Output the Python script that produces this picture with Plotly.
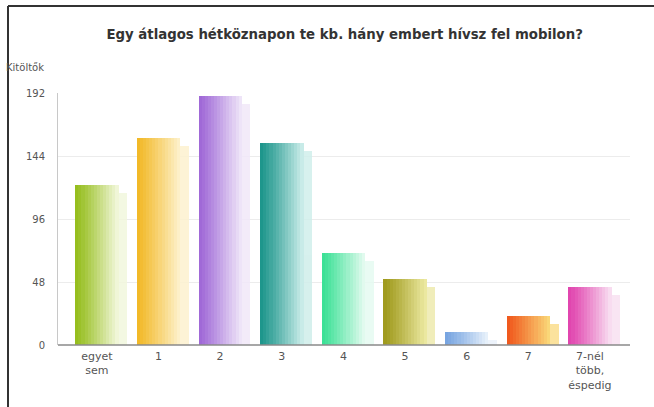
import plotly.graph_objects as go

categories = ["egyet<br>sem", "1", "2", "3", "4", "5", "6", "7", "7-nél<br>több,<br>éspedig"]
values = [122, 158, 190, 154, 70, 50, 10, 22, 44]
y_ticks = [0, 48, 96, 144, 192]
title_text = "Egy átlagos hétköznapon te kb. hány embert hívsz fel mobilon?"
y_label = "Kitöltők"

left_colors = [(150, 190, 30), (242, 185, 40), (160, 105, 215), (30, 150, 140),
               (60, 225, 150), (160, 155, 30), (120, 165, 225), (240, 90, 30), (225, 70, 175)]
right_colors = [(240, 246, 215), (253, 240, 200), (238, 228, 248), (200, 235, 232),
                (225, 250, 238), (235, 232, 160), (230, 240, 250), (250, 215, 120), (248, 220, 240)]

def mix(a, b, t):
    return "rgb(%d,%d,%d)" % tuple(round(a[k] + (b[k] - a[k]) * t) for k in range(3))

fig = go.Figure()
x_idx = list(range(len(categories)))
bar_w = 0.70

# soft shadow behind each bar
shadow_vals = [max(v - 6, 0) for v in values]
fig.add_trace(go.Bar(x=x_idx, y=shadow_vals, width=bar_w, offset=-bar_w / 2 + 0.14,
                     marker=dict(color=[mix(r, (255, 255, 255), 0.15) for r in right_colors],
                                 line=dict(width=0)),
                     opacity=0.85, hoverinfo="skip", showlegend=False))

N = 14
sw = bar_w / N
for i in range(N):
    t = (i / (N - 1)) ** 1.1
    fig.add_trace(go.Bar(x=x_idx, y=values, width=sw * 1.08, offset=-bar_w / 2 + i * sw,
                         marker=dict(color=[mix(l, r, t) for l, r in zip(left_colors, right_colors)],
                                     line=dict(width=0)),
                         hoverinfo="skip", showlegend=False))

fig.update_layout(
    width=654, height=407,
    margin=dict(l=58, r=24, t=93, b=62),
    paper_bgcolor="white", plot_bgcolor="white",
    barmode="overlay", bargap=0,
    font=dict(family="DejaVu Sans", color="#555555"),
    title=dict(text="<b>" + title_text + "</b>", x=0.527, xanchor="center",
               y=1 - 34 / 407, yanchor="middle", yref="container",
               font=dict(size=13.3, color="#333333", family="DejaVu Sans")),
    xaxis=dict(range=[-0.63, 8.65], tickmode="array", tickvals=x_idx, ticktext=categories,
               showgrid=False, zeroline=False, showline=False, ticks="",
               ticklabelstandoff=3,
               tickfont=dict(size=11, color="#555555"), fixedrange=True, automargin=False),
    yaxis=dict(range=[0, 192], tickmode="array", tickvals=y_ticks,
               ticktext=[str(v) for v in y_ticks],
               showgrid=True, gridcolor="#ececec", gridwidth=1,
               zeroline=False, showline=True, linecolor="#c8c8c8", linewidth=1,
               ticks="", ticklabelstandoff=10,
               tickfont=dict(size=10, color="#555555"), fixedrange=True, automargin=False),
    annotations=[dict(text=y_label, xref="paper", yref="paper", x=-0.095, y=1 + 25 / 252,
                      xanchor="left", yanchor="middle", showarrow=False,
                      font=dict(size=10, color="#555555"))],
    shapes=[
        dict(type="line", xref="paper", yref="paper", x0=0, x1=1, y0=0, y1=0,
             line=dict(color="#8a8a8a", width=1.5)),
        dict(type="line", xref="paper", yref="paper", x0=-50 / 572, x1=1 + 24 / 572,
             y0=1 + 87 / 252, y1=1 + 87 / 252, line=dict(color="#333333", width=2)),
        dict(type="line", xref="paper", yref="paper", x0=-50 / 572, x1=-50 / 572,
             y0=-62 / 252, y1=1 + 87 / 252, line=dict(color="#333333", width=2)),
    ],
)

fig.write_html("out.html", config={"displayModeBar": False},
               post_script="document.body.style.margin='0';")
